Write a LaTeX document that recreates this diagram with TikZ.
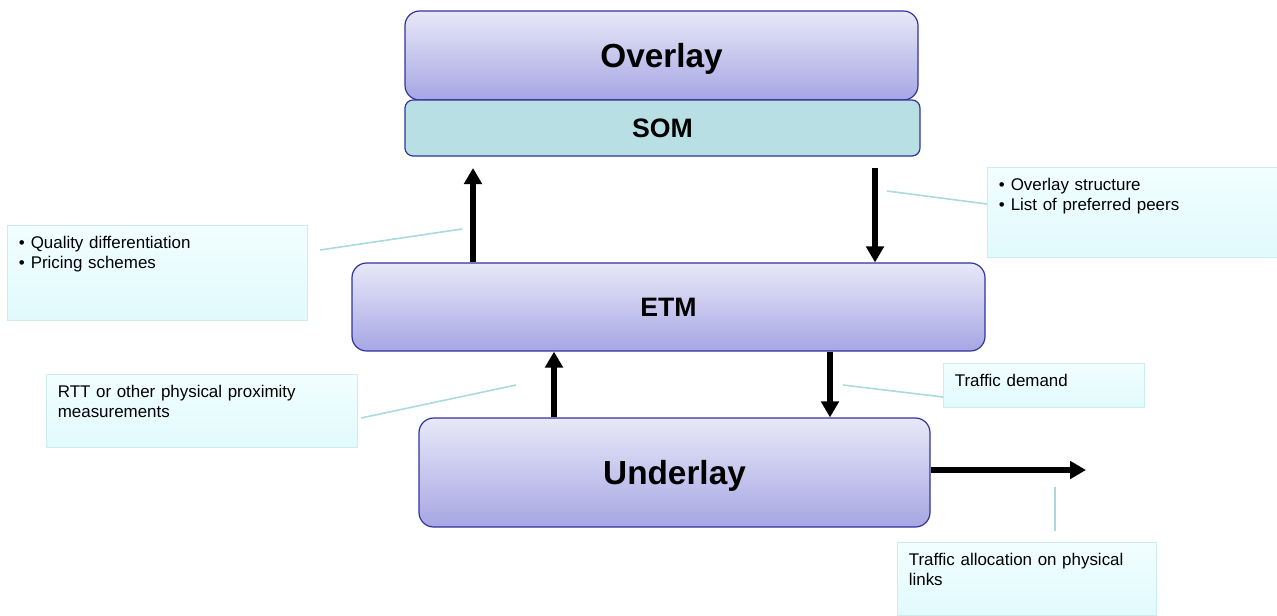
\documentclass[tikz,border=0pt]{standalone}
\usepackage{fontspec}
\setmainfont{Liberation Sans}
\usetikzlibrary{arrows.meta}
\definecolor{layertop}{RGB}{232,232,248}
\definecolor{layerbot}{RGB}{166,166,228}
\definecolor{layerline}{RGB}{50,50,155}
\definecolor{somfill}{RGB}{184,224,228}
\definecolor{notetop}{RGB}{242,254,255}
\definecolor{notebot}{RGB}{224,250,252}
\definecolor{noteline}{RGB}{204,236,238}
\definecolor{linkcol}{RGB}{170,218,222}
\tikzset{
  layer/.style={draw=layerline, line width=0.9pt, rounded corners=11pt, top color=layertop, bottom color=layerbot, text depth=0pt, font=\bfseries\fontsize{25}{30}\selectfont},
  som/.style={draw=layerline, line width=0.9pt, rounded corners=6pt, fill=somfill, text depth=0pt, font=\bfseries\fontsize{20}{24}\selectfont},
  note/.style={draw=noteline, line width=0.75pt, top color=notetop, bottom color=notebot, anchor=north west, align=left, inner xsep=8.5pt, inner ysep=8pt, text height=9.5pt, font=\fontsize{12.7}{15}\selectfont},
  flow/.style={line width=4.2pt, -{Triangle[length=12pt,width=13pt]}},
  link/.style={draw=linkcol, line width=1.2pt}
}
\newcommand{\bul}{\textbullet\hspace{4.5pt}}
\begin{document}
\begin{tikzpicture}[x=0.75pt,y=-0.75pt]
\useasboundingbox (0,0) rectangle (1277,615);

\node[layer, minimum width=384.75pt, minimum height=66.75pt] (overlay) at (661.5,55.5) {Overlay};
\node[som, minimum width=386.25pt, minimum height=42pt] (som) at (662.5,128) {SOM};
\node[layer, font=\bfseries\fontsize{20}{24}\selectfont, minimum width=474.75pt, minimum height=66pt] (etm) at (668.5,307) {ETM};
\node[layer, minimum width=383.25pt, minimum height=81.75pt] (under) at (674.5,472.5) {Underlay};

\node[note, text width=208pt, text depth=45.75pt] (qual) at (7,225) {\bul Quality differentiation\\\bul Pricing schemes};
\node[note, text width=200.5pt, text depth=42pt] (struct) at (987,167) {\bul Overlay structure\\\bul List of preferred peers};
\node[note, text width=216.25pt, text depth=29.25pt] (rtt) at (46,374) {RTT or other physical proximity\\measurements};
\node[note, text width=133.75pt, text depth=7.5pt] (demand) at (943,363) {Traffic demand};
\node[note, text width=177.25pt, text depth=29.25pt] (alloc) at (897,542) {Traffic allocation on physical\\links};

% arrows between layers
\coordinate (up1) at (473,168);
\coordinate (dn1) at (875,168);
\coordinate (out) at (1086,470);
\draw[flow] (etm.north -| up1) -- (up1);
\draw[flow] (dn1) -- (etm.north -| dn1);
\draw[flow] (under.north -| 554,0) -- (etm.south -| 554,0);
\draw[flow] (etm.south -| 830,0) -- (under.north -| 830,0);
\draw[flow] (under.east |- out) -- (out);

% callout lines
\coordinate (l1a) at (320,250);
\coordinate (l1b) at (462,229);
\coordinate (l2a) at (887,191);
\coordinate (l3a) at (361,418);
\coordinate (l3b) at (516,385);
\coordinate (l4a) at (843,385);
\coordinate (l5a) at (1055,487);
\coordinate (l5b) at (1055,531);
\draw[link] (l1a) -- (l1b);
\draw[link] (l2a) -- (struct.west |- 0,204);
\draw[link] (l3a) -- (l3b);
\draw[link] (l4a) -- (demand.west |- 0,397);
\draw[link] (l5a) -- (l5b);
\end{tikzpicture}
\end{document}
